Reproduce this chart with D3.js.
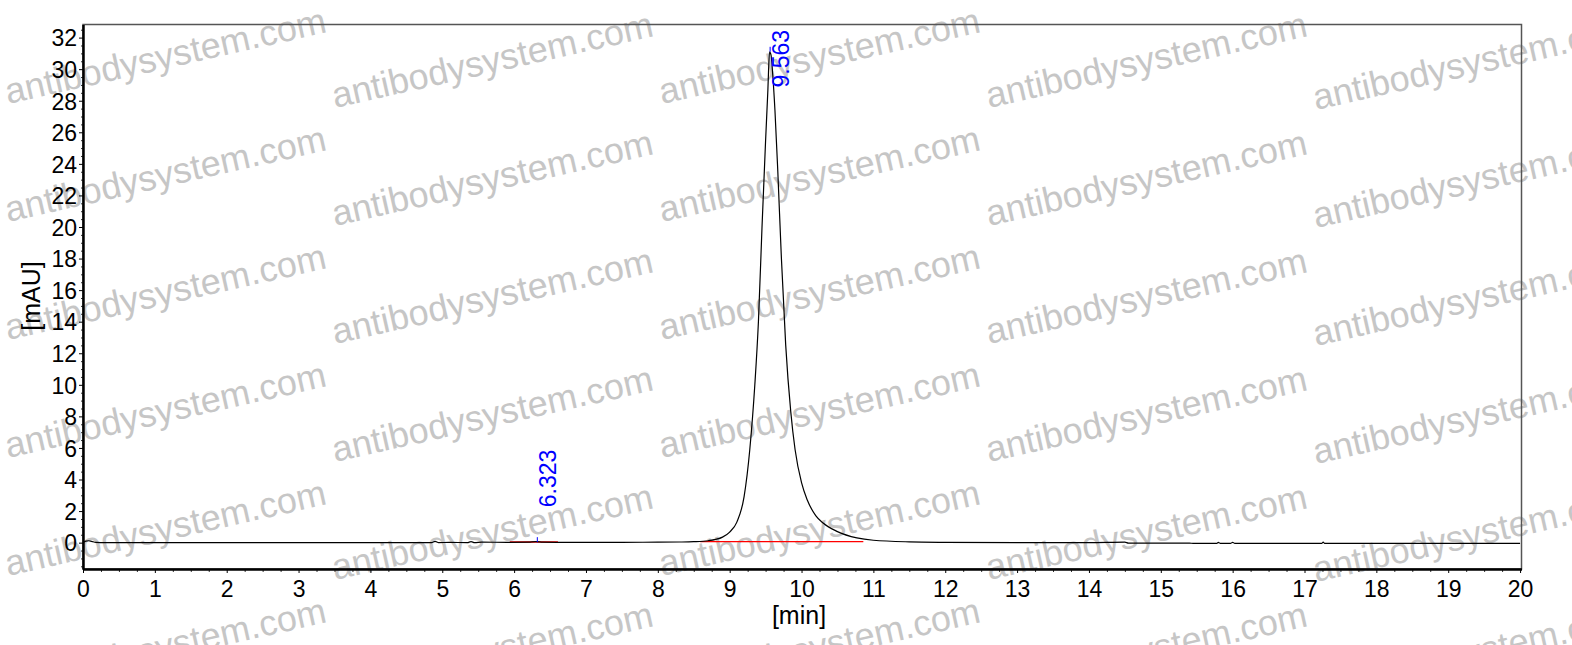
<!DOCTYPE html>
<html><head><meta charset="utf-8">
<script src="https://cdn.jsdelivr.net/npm/d3@7"></script>
<style>html,body{margin:0;padding:0;background:#fff;}svg{display:block;}</style>
</head><body>
<svg id="c" width="1572" height="645"></svg>
<script>
// ---- data ----
const times = [0, 0.04, 0.08, 0.12, 0.18, 0.3, 1, 2, 3, 4, 4.85, 4.9, 4.95, 5.1, 5.35, 5.4, 5.45, 5.55, 5.9, 6.2, 6.3, 6.4, 6.6, 7, 7.5, 8.0, 8.3, 8.5, 8.7, 8.9, 9.0, 9.1, 9.2, 9.28, 9.35, 9.4, 9.45, 9.5, 9.53, 9.555, 9.575, 9.6, 9.63, 9.67, 9.72, 9.78, 9.85, 9.91, 10.0, 10.08, 10.2, 10.3, 10.5, 10.77, 11.0, 11.5, 12, 13, 14, 14.5, 14.55, 15.4, 15.45, 15.78, 15.8, 15.83, 15.97, 16.0, 16.03, 17.24, 17.26, 17.28, 18, 19, 20];
const signal = [0.02, 0.1, 0.12, 0.08, 0.02, 0.0, 0.0, 0.0, 0.0, 0.0, 0.0, 0.08, 0.0, 0.02, 0.0, 0.07, 0.0, 0.03, 0.02, 0.03, 0.06, 0.03, 0.02, 0.02, 0.02, 0.03, 0.04, 0.06, 0.12, 0.35, 0.67, 1.3, 2.9, 5.9, 10.0, 14.0, 20.0, 25.5, 28.5, 31.1, 30.9, 29.6, 27.4, 23.5, 18.0, 12.5, 8.3, 5.9, 3.8, 2.7, 1.7, 1.24, 0.7, 0.3, 0.15, 0.05, 0.02, 0.0, 0.0, 0.03, -0.03, -0.03, -0.05, -0.05, 0.02, -0.05, -0.05, 0.02, -0.05, -0.05, 0.04, -0.05, -0.05, -0.05, -0.05];
const baselineStart = [5.94, 8.59];
const baselineEnd = [6.61, 10.86];
const baselineLevel = [0.04, 0.06];
const peakTimes = [6.323, 9.563];
const peakHeights = [0.03, 31.1];
const peakLabels = ["6.323", "9.563"];
const xTicks = d3.range(0, 21, 1);
const yTicks = d3.range(0, 33, 2);
const xLabel = "[min]";
const yLabel = "[mAU]";
const watermark = "antibodysystem.com";

// ---- layout ----
const svg = d3.select("#c");
const L = 83, R = 1521.5, T = 24.5, B = 569;
const x = d3.scaleLinear().domain([0, 20.02]).range([L, R]);
const y = d3.scaleLinear().domain([-1.67, 32.83]).range([B, T]);
const font = "'Liberation Sans', Arial, sans-serif";

// watermark (behind)
const wm = svg.append("g");
for (let c = 0; c < 5; c++) {
  const offs = [0, 4, 0, 4, 6][c];
  for (let r = 0; r < 6; r++) {
    const cx = 168 + 327 * c, cy = 68 + offs + 118 * r;
    wm.append("text").attr("transform", `translate(${cx},${cy}) rotate(-12.7)`)
      .attr("text-anchor", "middle").attr("font-family", font).attr("font-size", 36)
      .attr("fill", "#c6c6c6").text(watermark);
  }
}

// frame
svg.append("rect").attr("x", L).attr("y", T).attr("width", R - L).attr("height", B - T)
  .attr("fill", "none").attr("stroke", "#555").attr("stroke-width", 1.5);

// minor ticks
const minorX = d3.range(0, 20.001, 0.25).filter(v => Math.abs(v - Math.round(v)) > 1e-6);
svg.append("g").attr("transform", `translate(0,${B})`)
  .call(d3.axisBottom(x).tickValues(minorX).tickSize(3).tickFormat(""))
  .call(g => g.select(".domain").remove())
  .selectAll("line").attr("stroke", "#333");
const minorY = d3.range(-1.5, 32.6, 0.5).filter(v => Math.abs(v / 2 - Math.round(v / 2)) > 1e-6);
svg.append("g").attr("transform", `translate(${L},0)`)
  .call(d3.axisLeft(y).tickValues(minorY).tickSize(2).tickFormat(""))
  .call(g => g.select(".domain").remove())
  .selectAll("line").attr("stroke", "#333");

// major axes
const xa = svg.append("g").attr("transform", `translate(0,${B})`)
  .call(d3.axisBottom(x).tickValues(xTicks).tickSize(4).tickSizeOuter(0).tickPadding(8).tickFormat(d3.format("d")));
xa.select(".domain").attr("stroke", "#000").attr("stroke-width", 2.5);
xa.selectAll("text").attr("font-family", font).attr("font-size", 23).attr("fill", "#000");
const ya = svg.append("g").attr("transform", `translate(${L},0)`)
  .call(d3.axisLeft(y).tickValues(yTicks).tickSize(4).tickSizeOuter(0).tickPadding(2).tickFormat(d3.format("d")));
ya.select(".domain").attr("stroke", "#000").attr("stroke-width", 2.5);
ya.selectAll("text").attr("font-family", font).attr("font-size", 23).attr("fill", "#000").attr("dy", "0.36em");

// axis labels
svg.append("text").attr("x", 799).attr("y", 624).attr("text-anchor", "middle")
  .attr("font-family", font).attr("font-size", 25).text(xLabel);
svg.append("text").attr("transform", `translate(40,296) rotate(-90)`).attr("text-anchor", "middle")
  .attr("font-family", font).attr("font-size", 25).text(yLabel);

// baselines (red)
svg.append("g").selectAll("line").data(baselineStart).join("line")
  .attr("x1", d => x(d)).attr("x2", (d, i) => x(baselineEnd[i]))
  .attr("y1", (d, i) => y(baselineLevel[i])).attr("y2", (d, i) => y(baselineLevel[i]))
  .attr("stroke", "#ff0000").attr("stroke-width", 1.3);

// signal
const pts = times.map((t, i) => [t, signal[i]]);
svg.append("path").datum(pts)
  .attr("d", d3.line().x(d => x(d[0])).y(d => y(d[1])).curve(d3.curveMonotoneX))
  .attr("fill", "none").attr("stroke", "#000").attr("stroke-width", 1.2);

// peak markers + labels
svg.append("g").selectAll("line").data(peakTimes).join("line")
  .attr("x1", d => x(d)).attr("x2", d => x(d))
  .attr("y1", (d, i) => y(peakHeights[i]) - 5).attr("y2", (d, i) => y(peakHeights[i]))
  .attr("stroke", "#0000ff").attr("stroke-width", 1);
svg.append("g").selectAll("text").data(peakTimes).join("text")
  .attr("transform", (d, i) => {
    const ly = Math.max(y(peakHeights[i]) - 35, T + 63);
    return `translate(${x(d) + 19},${ly}) rotate(-90)`;
  })
  .attr("font-family", font).attr("font-size", 23).attr("fill", "#0000ff")
  .text((d, i) => peakLabels[i]);
</script>
</body></html>
